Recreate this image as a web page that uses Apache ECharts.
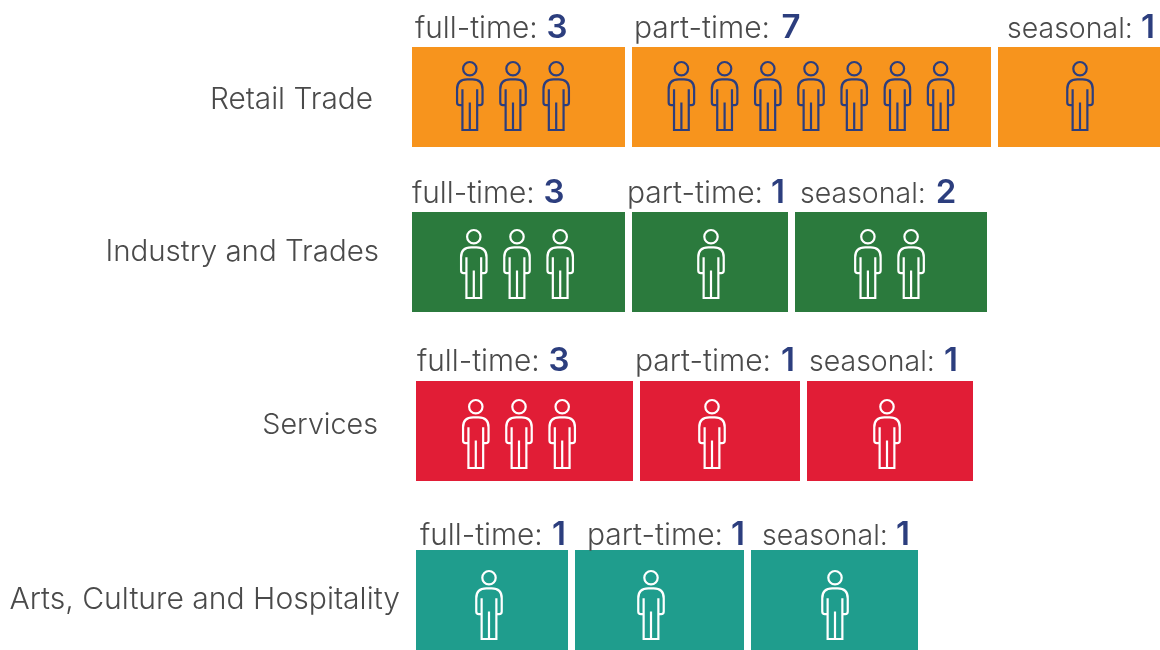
<!DOCTYPE html>
<html><head><meta charset="utf-8">
<style>html,body{margin:0;padding:0;background:#fff}#c{width:1160px;height:650px}</style>
<script src="https://cdn.jsdelivr.net/npm/echarts@6/dist/echarts.min.js"></script>
</head><body><div id="c"></div>
<script>
// values
const sectors = ['Retail Trade', 'Industry and Trades', 'Services', 'Arts, Culture and Hospitality'];
const jobTypes = ['full-time', 'part-time', 'seasonal'];
const fullTime = [3, 3, 3, 1];
const partTime = [7, 1, 1, 1];
const seasonal = [1, 2, 1, 1];

// layout, in axis units
const rowTop = [47, 212, 381, 550];
const rowBottom = [147, 312, 481, 650];
const iconTop = [62, 230, 400, 571];
const sectorLabelRight = [373, 379, 378, 400];
const sectorLabelY = [100.5, 252, 425, 599.5];
const sectorFontSize = [29.8, 29.5, 28.7, 30.1];
const captionY = [29, 194, 362, 536];
const captionFontSize = [29.8, 30, 28.5];
const blockStart = [[412, 632, 998], [412, 632, 795], [416, 640, 807], [416, 575, 751]];
const blockEnd = [[625, 991, 1160], [625, 788, 987], [633, 800, 973], [568, 744, 918]];
const captionX = [[415, 634, 1007], [412, 627, 800], [417, 635, 809], [420, 587, 762]];
const digitX = [[557, 791, 1148], [554, 778, 946], [559, 788, 951], [559, 738, 903]];
const iconCentre = [[513, 811, 1080], [517, 711, 889.5], [519, 712, 887], [489, 651, 835]];
const rowColors = ['#F7941D', '#2B7A3D', '#E11D36', '#1F9D8D'];
const iconColors = ['#2C3E7E', '#FFFFFF', '#FFFFFF', '#FFFFFF'];
const iconStep = 43.2, iconW = 25.5, iconH = 68;
const personPath = 'M20 24a20 20 0 1 0 40 0a20 20 0 1 0 -40 0M18 85V207H62V85M40 125V207M18 133H10Q2 133 2 125V85Q2 56 32 56H48Q78 56 78 85V125Q78 133 70 133H62';
const fontFamily = 'Inter, "Open Sans", sans-serif';
const textColor = '#4A4A4A', numColor = '#2C3E7E';

const counts = [fullTime, partTime, seasonal];

function cellRender(typeIdx) {
  return function (params, api) {
    const row = api.value(0);
    const n = api.value(1);
    const p0 = api.coord([blockStart[row][typeIdx], rowTop[row]]);
    const p1 = api.coord([blockEnd[row][typeIdx], rowBottom[row]]);
    const children = [{
      type: 'rect',
      shape: { x: p0[0], y: p0[1], width: p1[0] - p0[0], height: p1[1] - p0[1] },
      style: { fill: rowColors[row] }
    }];
    for (let i = 0; i < n; i++) {
      const cx = iconCentre[row][typeIdx] + (i - (n - 1) / 2) * iconStep;
      const a = api.coord([cx - iconW / 2, iconTop[row]]);
      const b = api.coord([cx + iconW / 2, iconTop[row] + iconH]);
      children.push({
        type: 'path',
        shape: { pathData: personPath, x: a[0], y: a[1], width: b[0] - a[0], height: b[1] - a[1] },
        style: { fill: 'none', stroke: iconColors[row], lineWidth: 2.2 }
      });
    }
    const t = api.coord([captionX[row][typeIdx], captionY[row]]);
    children.push({
      type: 'text', x: t[0], y: t[1],
      style: {
        text: jobTypes[typeIdx] + ':', verticalAlign: 'middle', align: 'left',
        fontFamily, fontSize: captionFontSize[typeIdx], fontWeight: 300, fill: textColor
      }
    });
    const d = api.coord([digitX[row][typeIdx], captionY[row] - 1]);
    children.push({
      type: 'text', x: d[0], y: d[1],
      style: {
        text: String(n), verticalAlign: 'middle', align: 'center',
        fontFamily, fontSize: 33, fontWeight: 600, fill: numColor
      }
    });
    return { type: 'group', children };
  };
}

const cellSeries = jobTypes.map((name, k) => ({
  type: 'custom', name, coordinateSystem: 'cartesian2d',
  renderItem: cellRender(k), clip: false,
  data: counts[k].map((v, row) => [row, v])
}));

const sectorSeries = {
  type: 'custom', name: 'sectors', coordinateSystem: 'cartesian2d', clip: false,
  renderItem(params, api) {
    const row = api.value(0);
    const p = api.coord([sectorLabelRight[row], sectorLabelY[row]]);
    return {
      type: 'text', x: p[0], y: p[1],
      style: {
        text: sectors[row], align: 'right', verticalAlign: 'middle',
        fontFamily, fontSize: sectorFontSize[row], fontWeight: 300, fill: textColor
      }
    };
  },
  data: sectors.map((s, i) => [i])
};

const chart = echarts.init(document.getElementById('c'), null, { renderer: 'canvas' });
chart.setOption({
  animation: false,
  backgroundColor: '#fff',
  grid: { left: 0, right: 0, top: 0, bottom: 0 },
  xAxis: { type: 'value', min: 0, max: 1160, show: false },
  yAxis: { type: 'value', min: 0, max: 650, inverse: true, show: false },
  series: [sectorSeries, ...cellSeries]
});
</script></body></html>
